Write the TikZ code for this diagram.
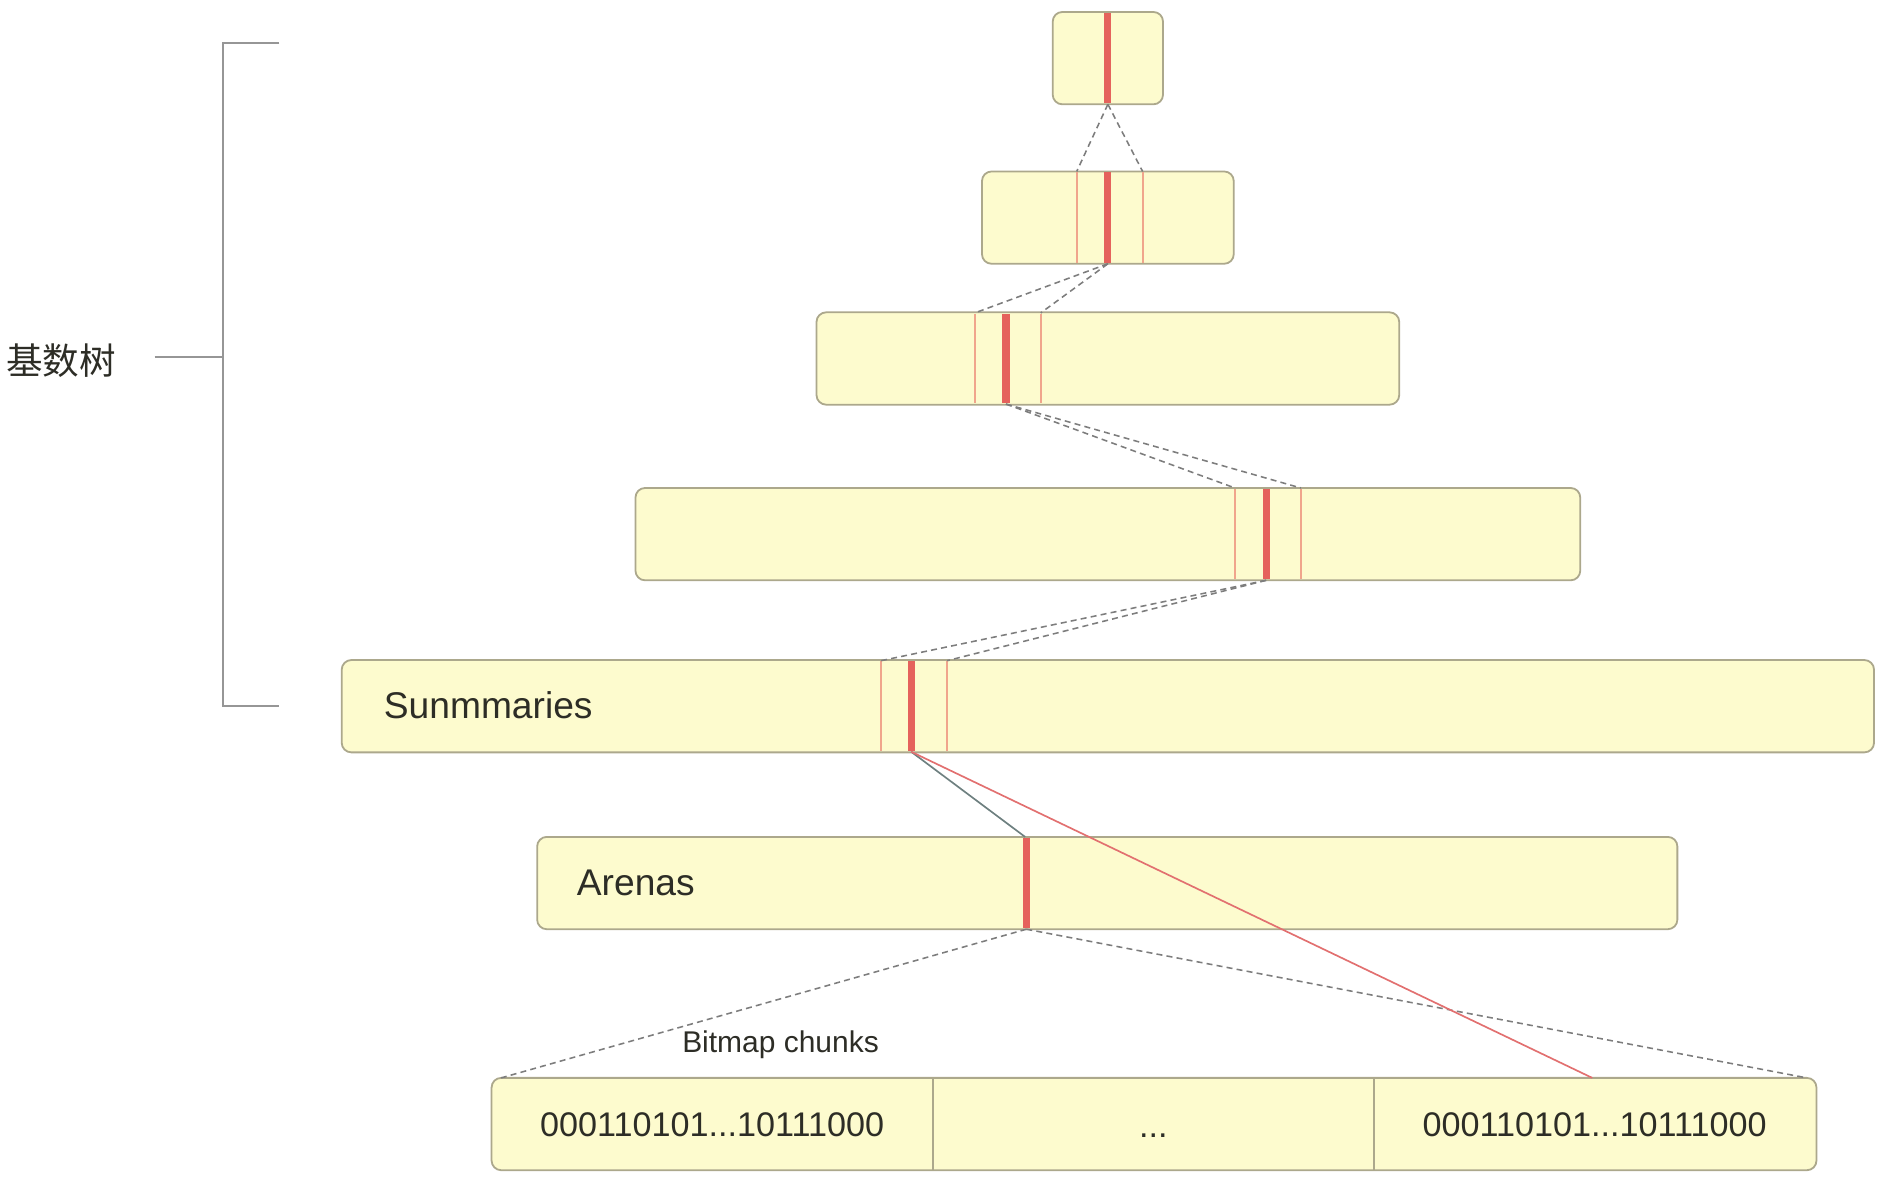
\documentclass[tikz,border=0pt]{standalone}
\usepackage{fontspec}
\setmainfont{Liberation Sans}
\newfontfamily\cjk{Noto Sans CJK SC}
\definecolor{boxfill}{RGB}{253,251,206}
\definecolor{boxline}{RGB}{172,168,140}
\definecolor{redthick}{RGB}{229,98,92}
\definecolor{redthin}{RGB}{240,165,140}
\definecolor{dashgray}{RGB}{125,125,125}
\definecolor{txt}{RGB}{45,45,38}
\definecolor{bracketgray}{RGB}{150,150,150}
\definecolor{linkgray}{RGB}{110,128,128}
\definecolor{linkred}{RGB}{226,112,112}
\begin{document}
\begin{tikzpicture}[x=1pt,y=-1pt,
  box/.style={draw=boxline, fill=boxfill, line width=1.5pt, rounded corners=8pt, inner sep=0pt, minimum height=77pt},
  redmark/.style={draw=redthick, line width=6pt},
  thinmark/.style={draw=redthin, line width=1.6pt},
  dashlink/.style={draw=dashgray, line width=1.3pt, dash pattern=on 5pt off 3.5pt},
  bigtext/.style={font=\fontsize{31}{36}\selectfont, text=txt, inner sep=0pt},
  celltext/.style={font=\fontsize{28.5}{34}\selectfont, text=txt, inner sep=0pt},
  smalltext/.style={font=\fontsize{25}{29}\selectfont, text=txt, inner sep=0pt},
  bracket/.style={draw=bracketgray, line width=1.5pt}]
\useasboundingbox (0,0) rectangle (1568,982.5);

% boxes
\node[box, minimum width=92pt]  (b1) at (924,48.5) {};
\node[box, minimum width=210pt] (b2) at (924,181.5) {};
\node[box, minimum width=486pt] (b3) at (924,299) {};
\node[box, minimum width=788pt] (b4) at (924,445.5) {};
\node[box, minimum width=1278pt] (b5) at (924,589) {};
\node[box, minimum width=951pt] (b6) at (923.5,736.5) {};
\node[box, minimum width=1105pt] (b7) at (962.5,937.5) {};

% marks in boxes
\draw[redmark] (924,10.7) -- (924,86.3);
\draw[thinmark] (898,143.7) -- (898,219.3);
\draw[thinmark] (953,143.7) -- (953,219.3);
\draw[redmark] (924,143.7) -- (924,219.3);
\draw[thinmark] (813,261.7) -- (813,336.3);
\draw[thinmark] (868,261.7) -- (868,336.3);
\draw[redmark] (839,261.7) -- (839,336.3);
\draw[thinmark] (1030,407.7) -- (1030,483.3);
\draw[thinmark] (1085,407.7) -- (1085,483.3);
\draw[redmark] (1056,407.7) -- (1056,483.3);
\draw[thinmark] (735,551.7) -- (735,626.3);
\draw[thinmark] (790,551.7) -- (790,626.3);
\draw[redmark] (760,551.7) -- (760,626.3);
\draw[redmark] (856,698.7) -- (856,774.3);

% bitmap dividers
\draw[draw=boxline, line width=1.5pt] (778,899) -- (778,976);
\draw[draw=boxline, line width=1.5pt] (1146,899) -- (1146,976);

% connector end points
\coordinate (r1b) at (924,87);
\coordinate (t2l) at (898,143);
\coordinate (t2r) at (953,143);
\coordinate (r2b) at (924,220);
\coordinate (t3l) at (813,261);
\coordinate (t3r) at (868,261);
\coordinate (r3b) at (839,337);
\coordinate (t4l) at (1030,407);
\coordinate (t4r) at (1085,407);
\coordinate (r4b) at (1056,484);
\coordinate (t5l) at (735,551);
\coordinate (t5r) at (790,551);
\coordinate (r5b) at (760,627);
\coordinate (r6t) at (855,698);
\coordinate (r6b) at (856,775);
\coordinate (c7l) at (418,899);
\coordinate (c7r) at (1507,899);
\coordinate (c7m) at (1328,899);

\draw[dashlink] (r1b) -- (t2l);
\draw[dashlink] (r1b) -- (t2r);
\draw[dashlink] (r2b) -- (t3l);
\draw[dashlink] (r2b) -- (t3r);
\draw[dashlink] (r3b) -- (t4l);
\draw[dashlink] (r3b) -- (t4r);
\draw[dashlink] (r4b) -- (t5l);
\draw[dashlink] (r4b) -- (t5r);
\draw[dashlink] (r6b) -- (c7l);
\draw[dashlink] (r6b) -- (c7r);
\draw[draw=linkgray, line width=1.4pt] (r5b) -- (r6t);
\draw[draw=linkred, line width=1.4pt] (r5b) -- (c7m);

% texts
\node[bigtext, anchor=west] (sum) at (320,588) {Sunmmaries};
\node[bigtext, anchor=west] (are) at (481,736) {Arenas};
\node[smalltext] (bmc) at (651,871) {Bitmap chunks};
\node[celltext, anchor=base] (cell1) at (594,947.5) {000110101...10111000};
\node[celltext, anchor=base] (cell2) at (962,949) {...};
\node[celltext, anchor=base] (cell3) at (1330,947.5) {000110101...10111000};

% bracket
\coordinate (bt) at (233,36);
\coordinate (bb) at (233,589);
\coordinate (bm) at (186,298);
\coordinate (bl) at (129,298);
\draw[bracket] (bt) -- (186,36) -- (186,589) -- (bb);
\draw[bracket] (bl) -- (bm);
\node[font=\cjk\fontsize{30.5}{35}\selectfont, text=txt, inner sep=0pt, anchor=west] (rad) at (5,301) {基数树};
\end{tikzpicture}
\end{document}
